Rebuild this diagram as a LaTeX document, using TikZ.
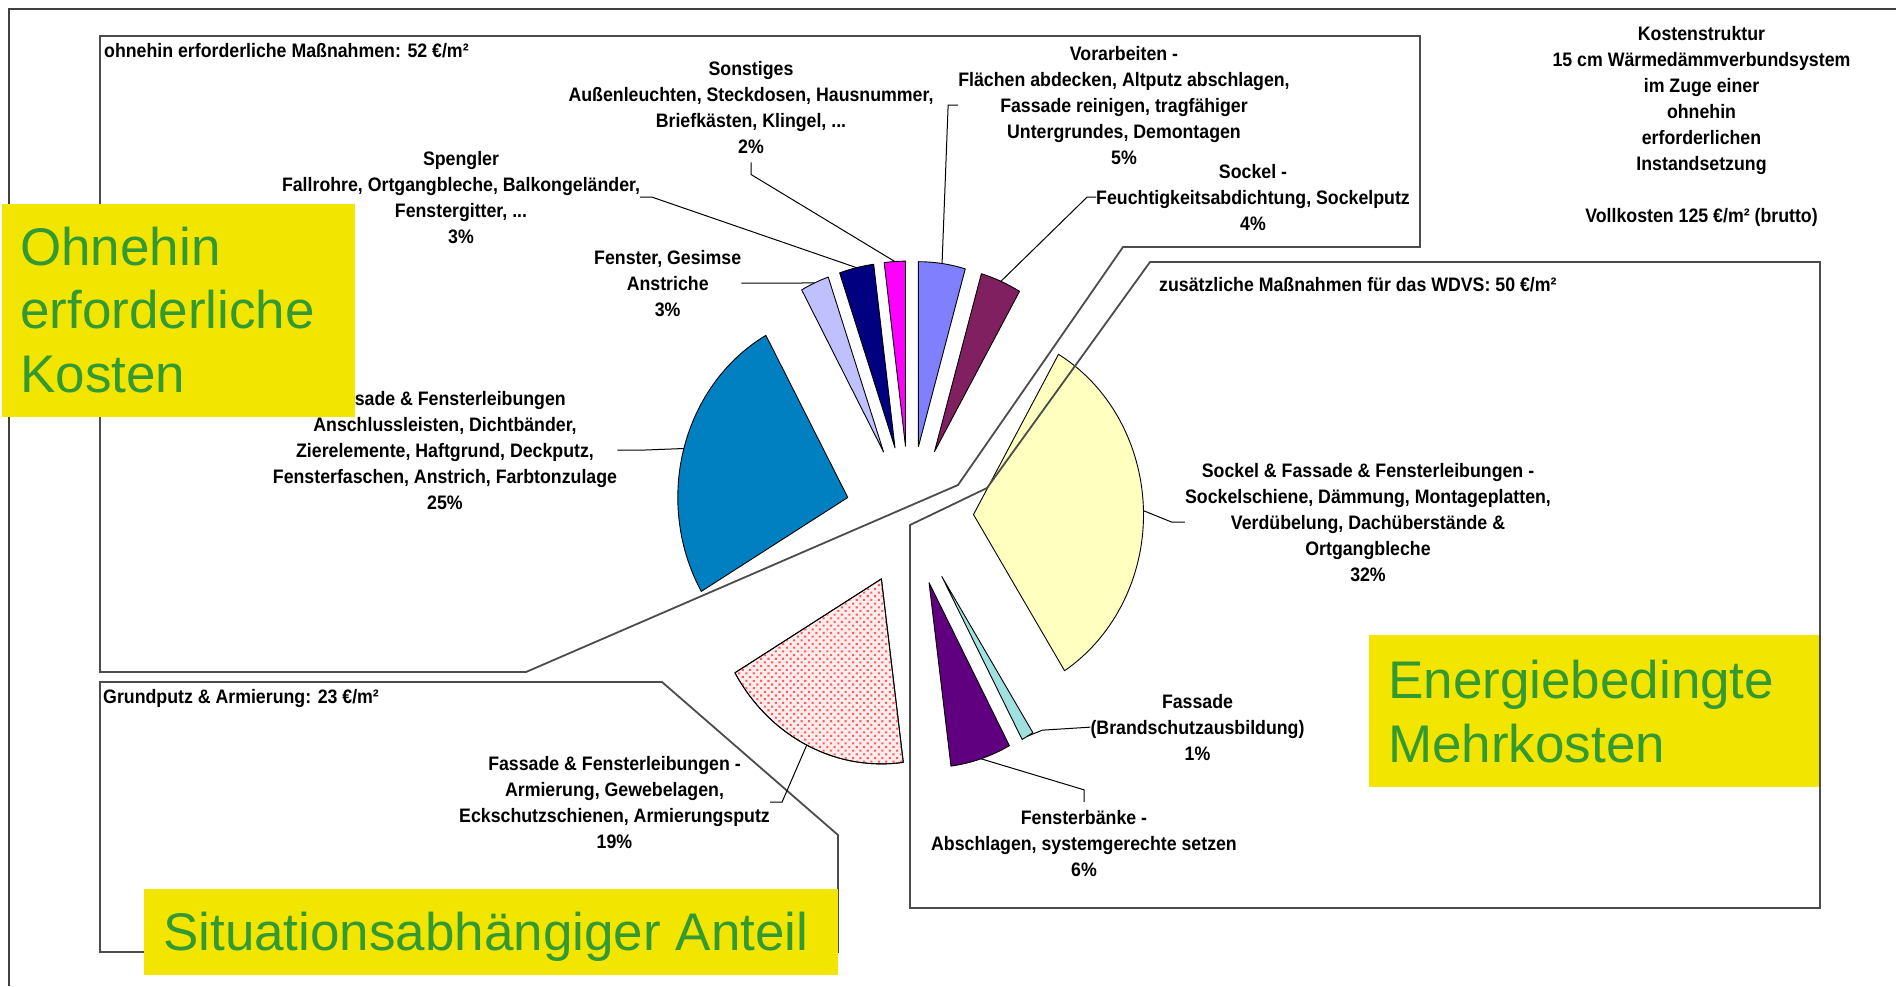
\documentclass[tikz,border=0pt]{standalone}
\usepackage{fontspec}
\setmainfont{Liberation Sans}
\newfontfamily\cf[FakeStretch=0.91]{Liberation Sans}
\usetikzlibrary{calc,patterns.meta}
\definecolor{cPeri}{HTML}{8080FF}
\definecolor{cMaroon}{HTML}{802060}
\definecolor{cYel}{HTML}{FFFFC0}
\definecolor{cCyan}{HTML}{A0E0E0}
\definecolor{cDPur}{HTML}{600080}
\definecolor{cDot}{HTML}{FF5E5E}
\definecolor{cDotBg}{HTML}{FFEDED}
\definecolor{cBlue}{HTML}{0080C0}
\definecolor{cLav}{HTML}{C0C0FF}
\definecolor{cNavy}{HTML}{000080}
\definecolor{cMag}{HTML}{FF00FF}
\definecolor{hlY}{HTML}{F2E600}
\definecolor{hlG}{HTML}{339933}
\newcommand\pieslice[4]{%
  \pgfmathsetmacro\psBis{(#1+#2)/2-90}%
  \pgfmathsetmacro\psA{#1-90}%
  \pgfmathsetmacro\psB{#2-90}%
  \coordinate (#4-apex) at ($(C)+(\psBis:64 and 70)$);
  \coordinate (#4-mid) at ($(#4-apex)+(\psBis:170 and 185)$);
  \draw[slice,#3] (#4-apex) -- ++(\psA:170 and 185)
     arc[start angle=\psA, end angle=\psB, x radius=170, y radius=185] -- cycle;
}
\begin{document}
\begin{tikzpicture}[x=1pt,y=-1pt,
  slice/.style={draw=black, line width=0.9pt, line join=round},
  leader/.style={draw=black, line width=1pt},
  grpbox/.style={draw=black!70, line width=1.8pt, line join=miter},
  frame/.style={draw=black!75, line width=1.5pt},
  lbl/.style={font=\cf\bfseries\fontsize{19.5}{26}\selectfont, align=center, inner sep=0pt, anchor=north},
  boxtitle/.style={font=\cf\bfseries\fontsize{19.5}{26}\selectfont, inner sep=0pt, anchor=base west},
  hltext/.style={font=\fontsize{53}{63.7}\selectfont, text=hlG, align=left, inner sep=0pt}]
\useasboundingbox (0,0) rectangle (1896,986);
\fill[white] (0,0) rectangle (1896,986);
\draw[frame] (1896,9) -- (9,9) -- (9,986);

% pie
\coordinate (C) at (909.5,516);
\pieslice{0}{16}{fill=cPeri}{pVor}
\pieslice{16}{30}{fill=cMaroon}{pSock}
\pieslice{30}{147.6}{fill=cYel}{pSFL}
\pieslice{147.6}{151.8}{fill=cCyan}{pBrand}
\pieslice{151.8}{172.6}{fill=cDPur}{pFB}
\pieslice{172.6}{239.5}{fill=cDotBg}{pArmBg}
\pieslice{172.6}{239.5}{pattern={Dots[radius=1.45pt, distance=5.2pt, angle=45]}, pattern color=cDot}{pArm}
\pieslice{239.5}{331.2}{fill=cBlue}{pFass}
\pieslice{331.2}{341}{fill=cLav}{pFen}
\pieslice{341}{352.8}{fill=cNavy}{pSpeng}
\pieslice{352.8}{360}{fill=cMag}{pSonst}

% group boxes
\draw[grpbox] (100,36) -- (1420,36) -- (1420,247) -- (1123,247) -- (958,485) -- (526,672) -- (100,672) -- cycle;
\draw[grpbox] (1150,262) -- (1820,262) -- (1820,908) -- (910,908) -- (910,525) -- (987,488) -- cycle;
\draw[grpbox] (100,682) -- (662,682) -- (838,835) -- (838,952) -- (100,952) -- cycle;

\node[boxtitle] (tOhne) at (104,57) {ohnehin erforderliche Maßnahmen: 52 €/m²};
\node[boxtitle] (tWDVS) at (1159,291) {zusätzliche Maßnahmen für das WDVS: 50 €/m²};
\node[boxtitle] (tGrund) at (103,703) {Grundputz \& Armierung: 23 €/m²};

% labels
\node[lbl] (lSonst) at (751,60.8) {Sonstiges\\Außenleuchten, Steckdosen, Hausnummer,\\Briefkästen, Klingel, ...\\2\%};
\node[lbl] (lSpeng) at (461,150.8) {Spengler\\Fallrohre, Ortgangbleche, Balkongeländer,\\Fenstergitter, ...\\3\%};
\node[lbl] (lFen) at (667.7,249.8) {Fenster, Gesimse\\Anstriche\\3\%};
\node[lbl] (lFass) at (445,390.8) {Fassade \& Fensterleibungen\\Anschlussleisten, Dichtbänder,\\Zierelemente, Haftgrund, Deckputz,\\Fensterfaschen, Anstrich, Farbtonzulage\\25\%};
\node[lbl] (lVor) at (1124,45.8) {Vorarbeiten -\\Flächen abdecken, Altputz abschlagen,\\Fassade reinigen, tragfähiger\\Untergrundes, Demontagen\\5\%};
\node[lbl] (lSock) at (1253,163.8) {Sockel -\\Feuchtigkeitsabdichtung, Sockelputz\\4\%};
\node[lbl] (lSFL) at (1368,462.8) {Sockel \& Fassade \& Fensterleibungen -\\Sockelschiene, Dämmung, Montageplatten,\\Verdübelung, Dachüberstände \&\\Ortgangbleche\\32\%};
\node[lbl] (lBrand) at (1197.5,693.8) {Fassade\\(Brandschutzausbildung)\\1\%};
\node[lbl] (lFB) at (1084,809.8) {Fensterbänke -\\Abschlagen, systemgerechte setzen\\6\%};
\node[lbl] (lArm) at (614.5,755.8) {Fassade \& Fensterleibungen -\\Armierung, Gewebelagen,\\Eckschutzschienen, Armierungsputz\\19\%};
\node[lbl] (lKost) at (1701.5,25.8) {Kostenstruktur\\15 cm Wärmedämmverbundsystem\\im Zuge einer\\ohnehin\\erforderlichen\\Instandsetzung\\[26pt]Vollkosten 125 €/m² (brutto)};

% leaders
\draw[leader] ([yshift=-9pt]lSonst.south) -- ++(0,12) -- (pSonst-mid);
\draw[leader] (lSpeng.east) -- ++(12,0) -- (pSpeng-mid);
\draw[leader] (lFen.east) -- ++(42,0) -- (pFen-mid);
\draw[leader] (lFass.east) -- ++(24,0) -- (pFass-mid);
\draw[leader] (lVor.west) -- ++(-10,0) -- (pVor-mid);
\draw[leader] (lSock.west) -- ++(-9,0) -- (pSock-mid);
\draw[leader] (lSFL.west) -- ++(-13,0) -- (pSFL-mid);
\draw[leader] (lBrand.west) -- ++(-48,3) -- (pBrand-mid);
\draw[leader] ([yshift=8pt]lFB.north) -- ++(0,-12) -- (pFB-mid);
\draw[leader] (lArm.east) -- ++(12,0) -- (pArm-mid);

% highlight boxes
\fill[hlY] (2,204) rectangle (355,417);
\node[hltext, anchor=north west] (hOhne) at (20,226.4) {Ohnehin\\erforderliche\\Kosten};
\fill[hlY] (1369,635) rectangle (1819,787);
\node[hltext, anchor=north west] (hEnergie) at (1388,660.3) {Energiebedingte\\Mehrkosten};
\fill[hlY] (144,889) rectangle (838,975);
\node[hltext, anchor=base west] (hSitu) at (163,950) {Situationsabhängiger Anteil};
\end{tikzpicture}
\end{document}
